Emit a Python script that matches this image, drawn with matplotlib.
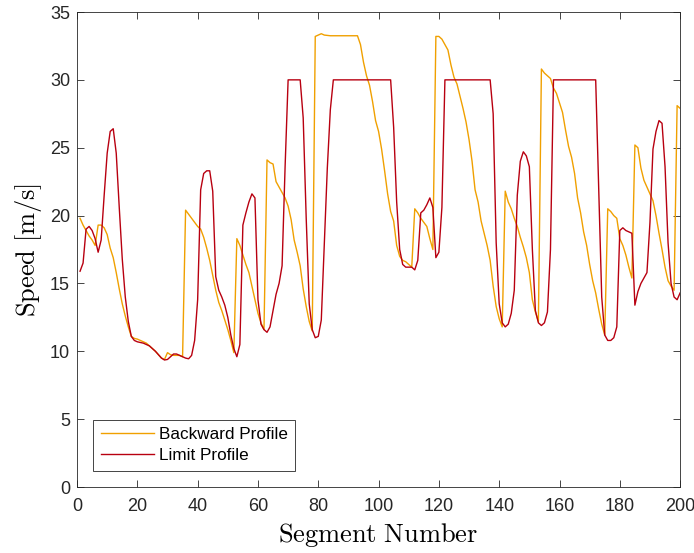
import matplotlib
matplotlib.use("Agg")
import matplotlib.pyplot as plt

plt.rcParams['mathtext.fontset'] = 'cm'
plt.rcParams['font.family'] = ['Liberation Sans', 'DejaVu Sans']

# Limit profile (segment, speed)
limit_x = [1, 2, 3, 4, 5, 6, 7, 8, 9, 10, 11, 12, 13, 14, 15, 16, 17, 18, 19, 20,
           22, 24, 26, 28, 29, 30, 31, 32, 33, 34, 36, 37, 38, 39, 40, 41, 42, 43, 44, 45,
           46, 47, 48, 49, 50, 51, 52, 53, 54, 55, 56, 57, 58, 59, 60, 61, 62, 63, 64, 65,
           66, 67, 68, 69, 70, 74, 75, 76, 77, 78, 79, 80, 81, 82, 83, 84, 85, 104, 105, 106,
           107, 108, 109, 111, 112, 113, 114, 115, 116, 117, 118, 119, 120, 121, 122, 137, 138, 139, 140, 141,
           142, 143, 144, 145, 146, 147, 148, 149, 150, 151, 152, 153, 154, 155, 156, 157, 158, 172, 173, 174,
           175, 176, 177, 178, 179, 180, 181, 182, 183, 184, 185, 186, 187, 188, 189, 190, 191, 192, 193, 194,
           195, 196, 197, 198, 199, 200]
limit_y = [15.9, 16.5, 19.0, 19.2, 18.9, 18.3, 17.3, 18.2, 21.5, 24.6, 26.2, 26.4, 24.6, 20.6, 16.8, 14.0, 12.2, 11.1, 10.8, 10.7,
           10.6, 10.4, 10.0, 9.5, 9.36, 9.4, 9.6, 9.8, 9.8, 9.7, 9.5, 9.45, 9.7, 10.8, 13.8, 21.9, 23.1, 23.3, 23.3, 21.8,
           15.5, 14.5, 14.0, 13.4, 12.5, 11.2, 10.2, 9.6, 10.5, 19.3, 20.2, 21.0, 21.6, 21.3, 13.8, 12.0, 11.6, 11.4, 11.8, 13.0,
           14.2, 15.0, 16.3, 23.6, 30.0, 30.0, 27.2, 19.8, 13.5, 11.6, 11.0, 11.1, 12.3, 18.0, 23.5, 27.8, 30.0, 30.0, 26.5, 21.0,
           17.5, 16.4, 16.2, 16.2, 16.0, 16.7, 20.2, 20.4, 20.8, 21.3, 20.6, 16.9, 17.3, 20.6, 30.0, 30.0, 27.5, 18.0, 13.5, 12.1,
           11.8, 12.0, 12.8, 14.5, 21.5, 24.0, 24.7, 24.4, 23.6, 17.5, 13.0, 12.1, 11.9, 12.1, 12.9, 17.5, 30.0, 30.0, 22.0, 14.0,
           11.2, 10.8, 10.8, 11.0, 11.8, 18.9, 19.1, 18.9, 18.8, 18.7, 13.4, 14.4, 15.0, 15.4, 15.8, 19.5, 24.9, 26.2, 27.0, 26.8,
           23.6, 18.0, 15.0, 14.0, 13.8, 14.3]

# Backward profile (segment, speed)
back_x = [1, 2, 3, 4, 5, 6, 7, 8, 9, 10, 11, 12, 13, 14, 15, 16, 17, 18, 19, 20,
          21, 22, 23, 24, 25, 26, 27, 28, 29, 30, 31, 32, 33, 34, 35, 36, 37, 38, 39, 40,
          41, 42, 43, 44, 45, 46, 47, 48, 49, 50, 51, 52, 53, 54, 55, 56, 57, 58, 59, 60,
          61, 62, 63, 64, 65, 66, 67, 68, 69, 70, 71, 72, 73, 74, 75, 76, 77, 78, 79, 80,
          81, 82, 84, 93, 94, 95, 96, 97, 98, 99, 100, 101, 102, 103, 104, 105, 106, 107, 108, 109,
          110, 111, 112, 113, 114, 115, 116, 117, 118, 119, 120, 121, 122, 123, 124, 125, 126, 127, 128, 129,
          130, 131, 132, 133, 134, 135, 136, 137, 138, 139, 140, 141, 142, 143, 144, 145, 146, 147, 148, 149,
          150, 151, 152, 153, 154, 155, 156, 157, 158, 159, 160, 161, 162, 163, 164, 165, 166, 167, 168, 169,
          170, 171, 172, 173, 174, 175, 176, 177, 178, 179, 180, 181, 182, 183, 184, 185, 186, 187, 188, 189,
          190, 191, 192, 193, 194, 195, 196, 197, 198, 199, 200]
back_y = [19.8, 19.3, 18.9, 18.5, 18.2, 17.8, 19.3, 19.3, 19.1, 18.6, 17.6, 16.9, 15.8, 14.6, 13.5, 12.6, 11.8, 11.1, 10.95, 10.9,
          10.8, 10.7, 10.6, 10.4, 10.2, 10.0, 9.75, 9.5, 9.4, 9.9, 9.75, 9.7, 9.7, 9.7, 9.6, 20.4, 20.1, 19.8, 19.5, 19.2,
          19.0, 18.4, 17.6, 16.7, 15.6, 14.5, 13.6, 13.0, 12.3, 11.6, 10.8, 9.9, 18.3, 17.8, 17.1, 16.4, 15.8, 14.8, 13.8, 12.8,
          12.1, 11.6, 24.1, 23.9, 23.8, 22.5, 22.1, 21.7, 21.3, 20.7, 19.7, 18.2, 17.3, 16.3, 14.6, 13.3, 12.2, 11.5, 33.2, 33.3,
          33.4, 33.3, 33.25, 33.25, 32.6, 31.3, 30.3, 29.6, 28.4, 27.0, 26.2, 24.9, 23.3, 21.6, 20.3, 19.6, 17.8, 17.0, 16.7, 16.6,
          16.4, 16.2, 20.5, 20.2, 19.8, 19.5, 19.2, 18.3, 17.5, 33.2, 33.2, 33.0, 32.6, 32.2, 31.1, 30.2, 29.7, 28.8, 27.9, 26.9,
          25.6, 24.0, 21.9, 21.0, 19.6, 18.7, 17.8, 16.7, 14.8, 13.3, 12.4, 11.8, 21.8, 21.0, 20.5, 19.8, 19.2, 18.4, 17.7, 16.9,
          15.8, 13.8, 12.9, 12.2, 30.8, 30.5, 30.3, 30.1, 29.4, 29.0, 28.3, 27.6, 26.3, 25.1, 24.3, 23.1, 21.3, 20.2, 18.8, 17.8,
          16.4, 15.2, 14.3, 13.1, 12.0, 11.2, 20.5, 20.3, 20.0, 19.8, 18.3, 17.8, 17.1, 16.2, 15.4, 25.2, 25.0, 23.5, 22.6, 22.1,
          21.6, 21.1, 20.0, 18.7, 17.5, 16.2, 15.2, 14.8, 14.5, 28.1, 27.9]

fig = plt.figure(figsize=(6.94, 5.53), dpi=100)
ax = fig.add_axes([0.111, 0.1193, 0.869, 0.859])

ax.plot(back_x, back_y, color='#F0A000', lw=1.0, label='Backward Profile')
ax.plot(limit_x, limit_y, color='#B80010', lw=1.0, label='Limit Profile')

ax.set_xlim(0, 200)
ax.set_ylim(0, 35)
ax.set_xticks(range(0, 201, 20))
ax.set_yticks(range(0, 36, 5))
ax.tick_params(direction='in', top=True, right=True, length=5, width=0.6,
               labelsize=13, colors='#262626')
ax.tick_params(axis='x', pad=8)
ax.tick_params(axis='y', pad=5)
for s in ax.spines.values():
    s.set_color('#262626')
    s.set_linewidth(0.6)

ax.set_xlabel(r'$\mathrm{Segment\ Number}$', fontsize=19, labelpad=4)
ax.set_ylabel(r'$\mathrm{Speed\ [m/s]}$', fontsize=19, labelpad=4)

leg = ax.legend(loc='lower left', bbox_to_anchor=(16 / 603, 16 / 475), fontsize=12.3,
                fancybox=False, edgecolor='#262626', framealpha=1,
                handlelength=3.1, borderpad=0.45, labelspacing=0.35,
                handletextpad=0.3, borderaxespad=0.0)
leg.get_frame().set_linewidth(0.6)

fig.savefig('out.png', dpi=100)
